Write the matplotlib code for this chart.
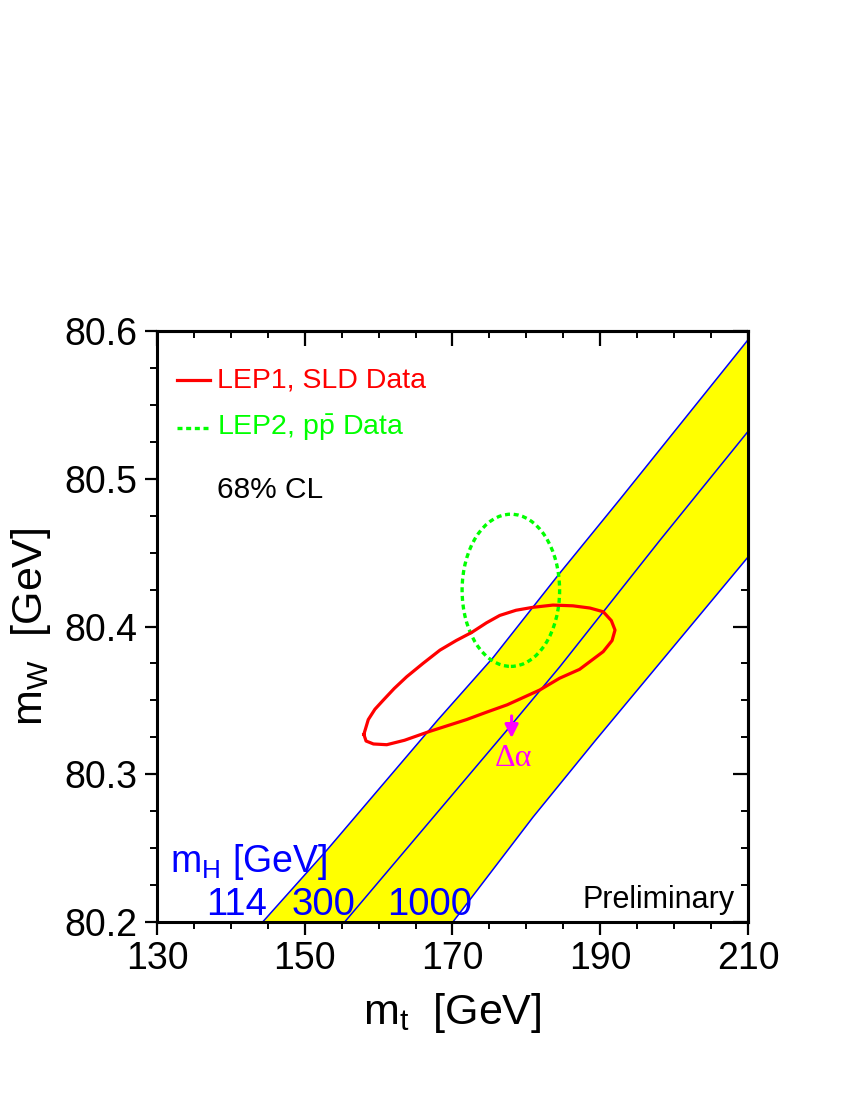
import matplotlib
matplotlib.use('Agg')
import matplotlib.pyplot as plt
from matplotlib.patches import Ellipse
from matplotlib.ticker import MultipleLocator, FormatStrFormatter

plt.rcParams['font.family'] = ['Liberation Sans', 'DejaVu Sans']
plt.rcParams['mathtext.fontset'] = 'custom'
plt.rcParams['mathtext.rm'] = 'Liberation Sans'
plt.rcParams['mathtext.it'] = 'Liberation Sans:italic'

# SM bands for mH = 114, 300, 1000 GeV (mt, mW)
mh_114_mt = [144.3, 153.0, 168.0, 175.5, 184.5, 192.65, 210.0]
mh_114_mw = [80.200, 80.2487, 80.3367, 80.379, 80.436, 80.486, 80.594]
mh_300_mt = [155.4, 177.4, 184.5, 198.1, 210.0]
mh_300_mw = [80.200, 80.330, 80.3726, 80.4585, 80.532]
mh_1000_mt = [170.05, 180.9, 189.3, 210.0]
mh_1000_mw = [80.200, 80.271, 80.3226, 80.447]

# LEP1, SLD 68% contour
lep1_mt = [158.0, 158.6, 159.5, 160.6, 162.1, 163.8, 166.0, 168.3, 170.5, 172.6, 174.6,
           176.4, 178.6, 180.9, 183.6, 186.3, 188.6, 190.4, 191.5, 192.0, 191.6,
           190.4, 188.8, 187.2, 184.5, 181.8, 179.6, 177.4, 174.6, 171.9, 169.4,
           166.9, 163.5, 161.1, 159.3, 158.3, 158.0]
lep1_mw = [80.327, 80.337, 80.344, 80.350, 80.358, 80.366, 80.375, 80.384, 80.3905, 80.396, 80.4025,
           80.4075, 80.4110, 80.413, 80.4145, 80.414, 80.4125, 80.410, 80.404, 80.3976, 80.3905,
           80.383, 80.377, 80.371, 80.365, 80.357, 80.352, 80.347, 80.342, 80.337, 80.333,
           80.329, 80.323, 80.320, 80.3205, 80.3225, 80.327]

# LEP2, ppbar direct measurement (centre, +-1 sigma)
lep2_mt, lep2_mt_err = 177.9, 6.6
lep2_mw, lep2_mw_err = 80.4245, 0.0515

# Delta alpha arrow
dalpha_mt = 178.0
dalpha_mw = [80.3395, 80.3245]

mh_labels = ['114', '300', '1000']
mh_label_x = [0.134, 0.281, 0.462]

fig = plt.figure(figsize=(8.5, 11), dpi=100)
ax = fig.add_axes([0.1847, 0.1618, 0.6953, 0.5373])

band_x = mh_114_mt + mh_1000_mt[::-1]
band_y = mh_114_mw + mh_1000_mw[::-1]
ax.fill(band_x, band_y, color='#ffff00', lw=0, zorder=1)
for xs, ys in [(mh_114_mt, mh_114_mw), (mh_300_mt, mh_300_mw), (mh_1000_mt, mh_1000_mw)]:
    ax.plot(xs, ys, color='#0000ff', lw=1.1, zorder=2)

ax.plot(lep1_mt, lep1_mw, color='#ff0000', lw=2.3, solid_joinstyle='round', zorder=4)
ell = Ellipse((lep2_mt, lep2_mw), 2 * lep2_mt_err, 2 * lep2_mw_err, fill=False,
              edgecolor='#00ff00', lw=2.4, linestyle=(0, (1.5, 1.1)), zorder=3)
ax.add_patch(ell)

ax.annotate('', xy=(dalpha_mt, dalpha_mw[1]), xytext=(dalpha_mt, dalpha_mw[0]),
            arrowprops=dict(arrowstyle='-|>', color='#ff00ff', lw=2.2, mutation_scale=20,
                            shrinkA=0, shrinkB=0),
            zorder=5)
ax.text(dalpha_mt + 0.2, 80.311, '\u0394\u03b1', color='#ff00ff', fontsize=23,
        family=['Liberation Serif', 'DejaVu Serif'], ha='center', va='center', zorder=5)

ax.set_xlim(130, 210)
ax.set_ylim(80.2, 80.6)
ax.set_xticks([130, 150, 170, 190, 210])
ax.set_yticks([80.2, 80.3, 80.4, 80.5, 80.6])
ax.xaxis.set_minor_locator(MultipleLocator(5))
ax.yaxis.set_minor_locator(MultipleLocator(0.025))
ax.yaxis.set_major_formatter(FormatStrFormatter('%.1f'))
ax.tick_params(which='major', direction='out', length=9, width=1.6, labelsize=27, pad=5)
ax.tick_params(which='minor', direction='out', length=5, width=1.4)
for sp in ax.spines.values():
    sp.set_linewidth(2.2)

top = ax.secondary_xaxis('top')
top.set_xticks([130, 150, 170, 190, 210])
top.xaxis.set_minor_locator(MultipleLocator(5))
top.tick_params(which='major', direction='in', length=11, width=1.6, labeltop=False)
top.tick_params(which='minor', direction='in', length=5, width=1.4)
right = ax.secondary_yaxis('right')
right.set_yticks([80.2, 80.3, 80.4, 80.5, 80.6])
right.yaxis.set_minor_locator(MultipleLocator(0.025))
right.tick_params(which='major', direction='in', length=11, width=1.6, labelright=False)
right.tick_params(which='minor', direction='in', length=5, width=1.4)
for a in (top, right):
    for sp in a.spines.values():
        sp.set_linewidth(2.2)

ax.set_xlabel(r'$\mathrm{m_t}$  [GeV]', fontsize=31, labelpad=10)
ax.set_ylabel(r'$\mathrm{m_W}$  [GeV]', fontsize=31, labelpad=8)

# legend drawn by hand
ax.plot([0.034, 0.090], [0.917, 0.917], color='#ff0000', lw=2.3, transform=ax.transAxes)
ax.plot([0.034, 0.090], [0.836, 0.836], color='#00ff00', lw=2.4,
        linestyle=(0, (1.5, 1.1)), transform=ax.transAxes)
ax.text(0.1015, 0.917, 'LEP1, SLD Data', color='#ff0000', fontsize=20.5,
        transform=ax.transAxes, va='center')
ax.text(0.1015, 0.836, r'LEP2, p$\bar{\mathrm{p}}$ Data', color='#00ff00', fontsize=20.5,
        transform=ax.transAxes, va='center')
ax.text(0.1015, 0.731, '68% CL', color='black', fontsize=21.5,
        transform=ax.transAxes, va='center')

ax.text(0.022, 0.102, r'$\mathrm{m_H}$ [GeV]', color='#0000ff', fontsize=27,
        transform=ax.transAxes, va='center', zorder=6)
for lab, xp in zip(mh_labels, mh_label_x):
    ax.text(xp, 0.029, lab, color='#0000ff', fontsize=27.5, transform=ax.transAxes,
            ha='center', va='center', zorder=6)

ax.text(0.978, 0.037, 'Preliminary', color='black', fontsize=22,
        transform=ax.transAxes, ha='right', va='center')

fig.savefig('out.png', dpi=100)
